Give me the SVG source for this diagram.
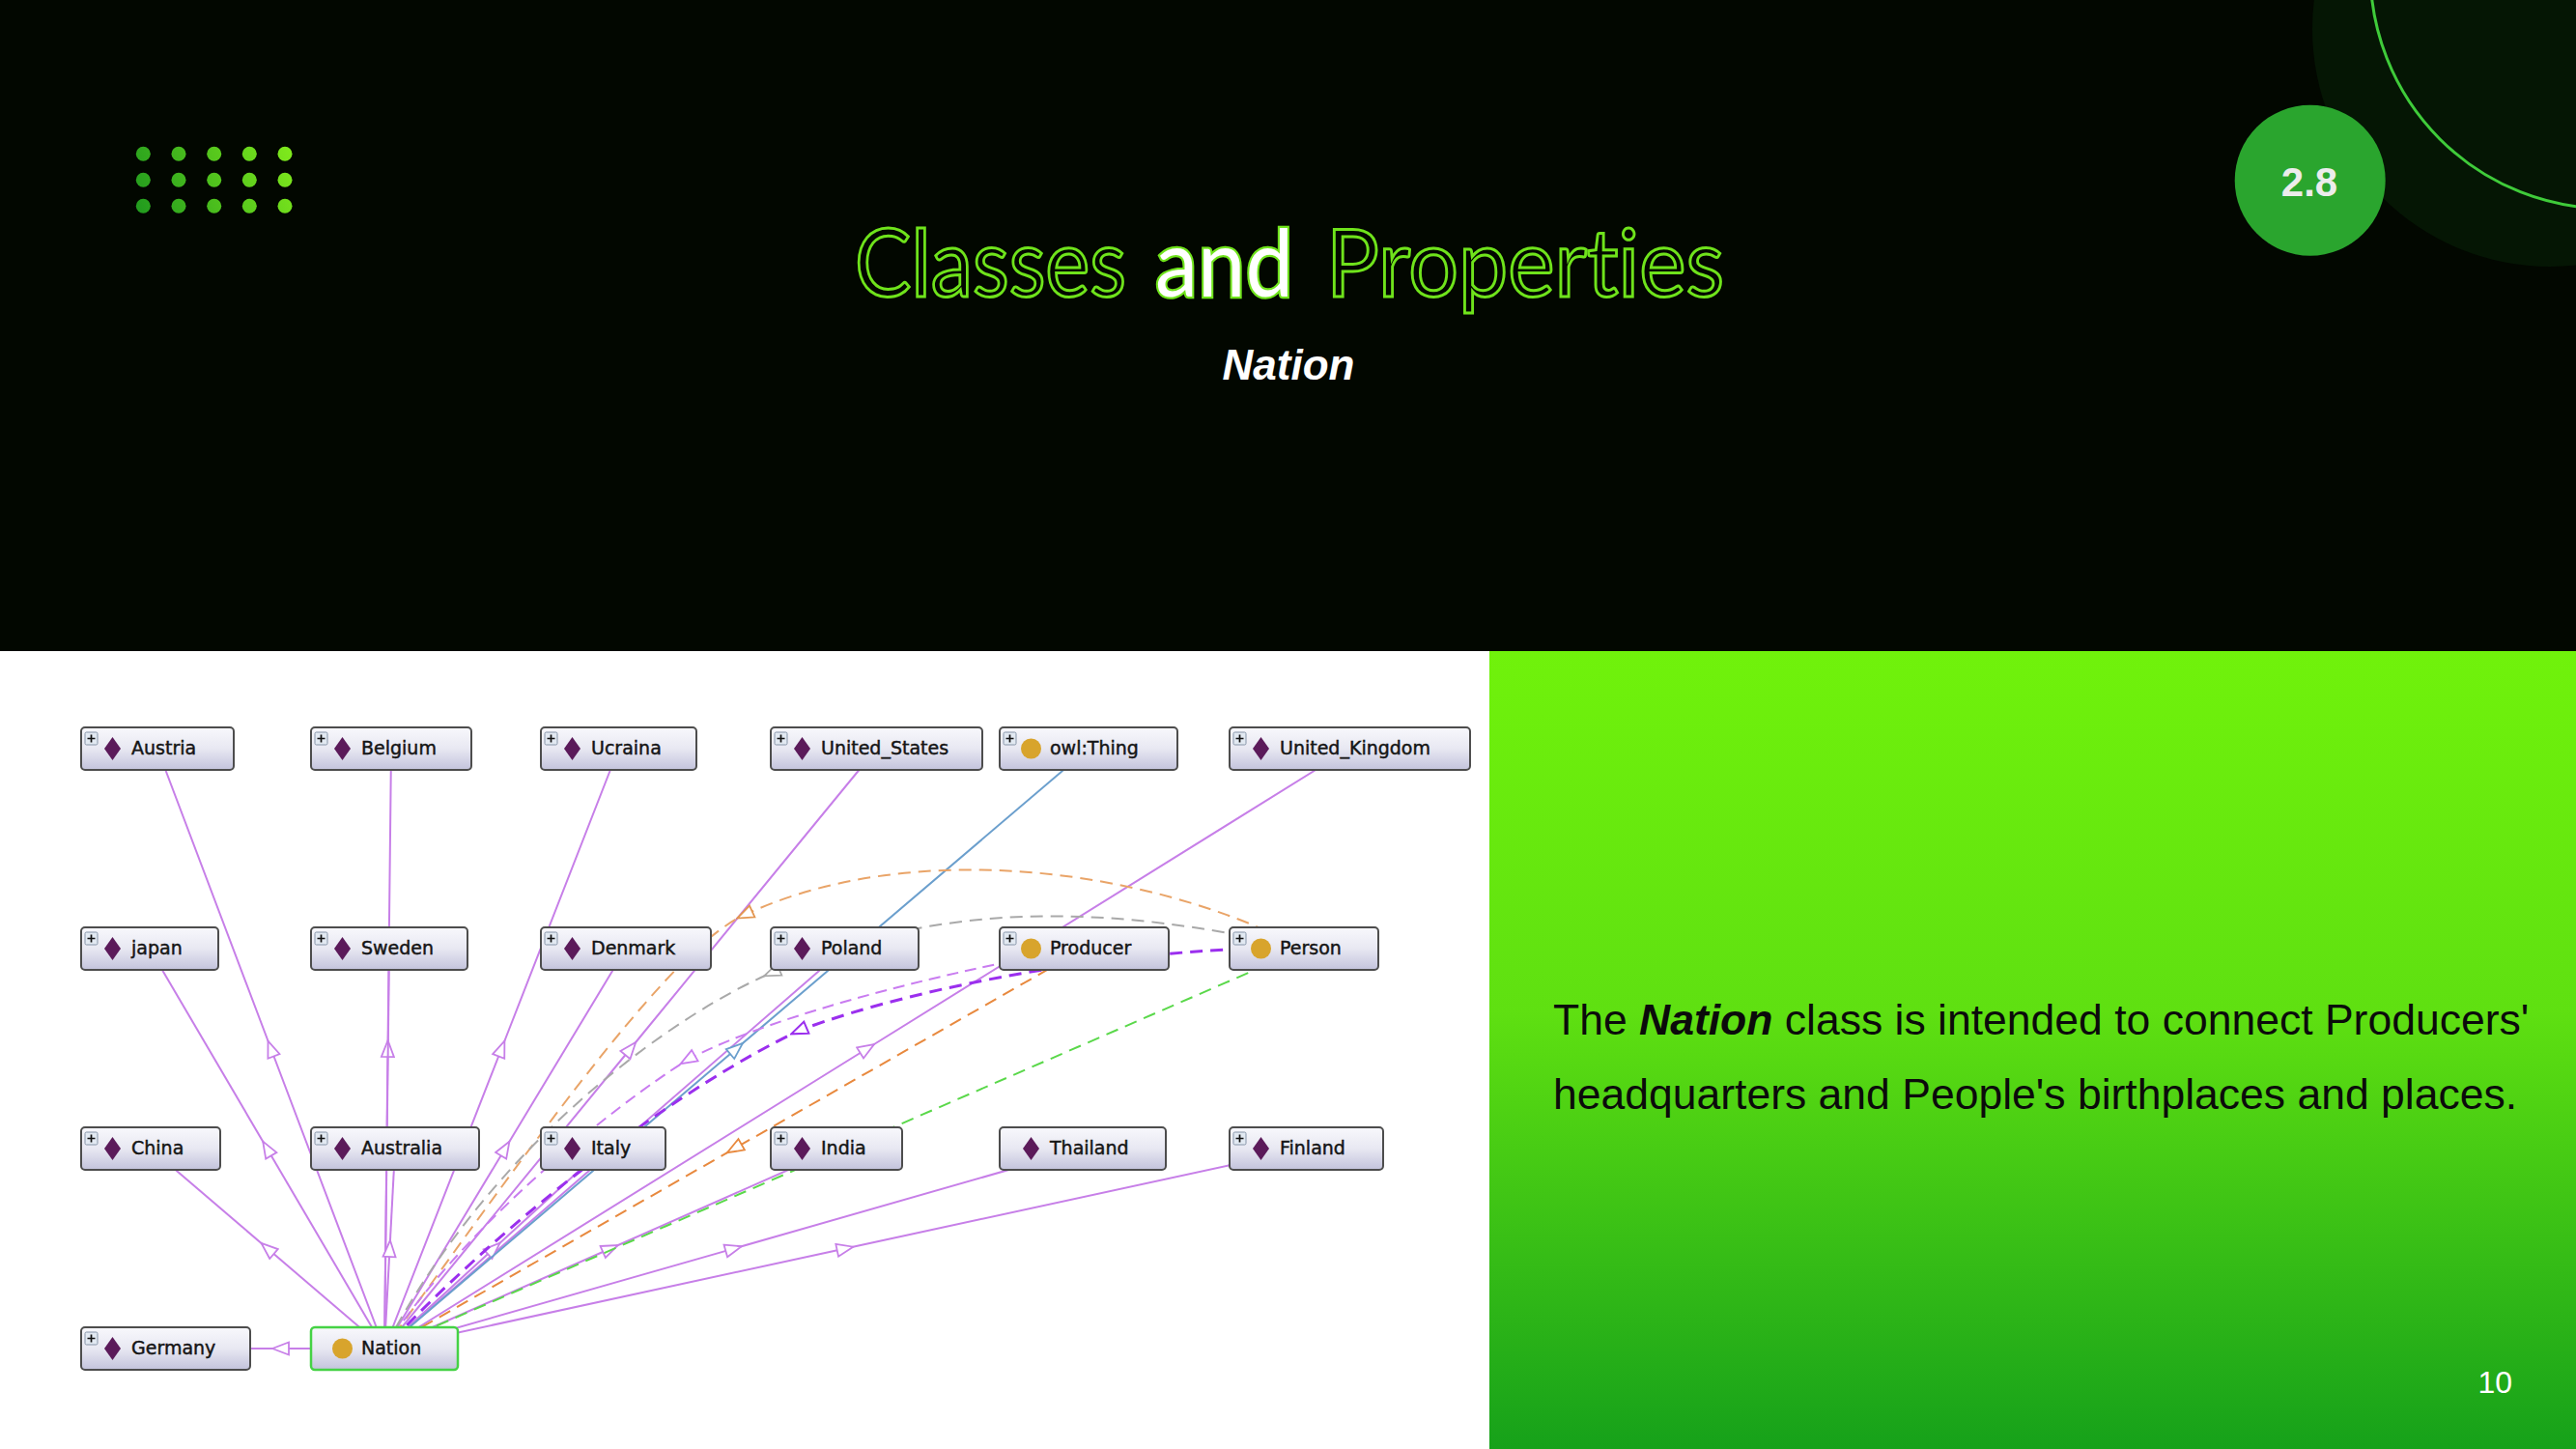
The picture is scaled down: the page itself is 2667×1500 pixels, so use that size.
<svg xmlns="http://www.w3.org/2000/svg" xmlns:xlink="http://www.w3.org/1999/xlink" width="2667" height="1500" viewBox="0 0 2667 1500">
  <style>
    .box { fill: url(#boxFill); stroke: #4d4d4d; stroke-width: 2; }
    .box-focus { fill: url(#boxFill); stroke: #45d245; stroke-width: 2.5; }
    .lbl { font-family: 'DejaVu Sans', 'Liberation Sans', sans-serif; font-size: 19px; fill: #151515; stroke: #151515; stroke-width: 0.45; }
    .edge { fill: none; stroke-width: 2; }
    .inst { stroke: #c77fe8; marker-mid: url(#arrPurple); }
    .sub { stroke: #6b9fcd; marker-mid: url(#arrBlue); }
    .d-orange { stroke: #e9a468; stroke-dasharray: 13 8; marker-mid: url(#arrOrange); }
    .d-orange2 { stroke: #e8893e; stroke-dasharray: 13 8; marker-mid: url(#arrOrange2); }
    .d-gray { stroke: #a9a9a9; stroke-dasharray: 13 8; marker-mid: url(#arrGray); }
    .d-lilac { stroke: #c97cf0; stroke-dasharray: 12 7; marker-mid: url(#arrLilac); }
    .d-violet { stroke: #9b2fee; stroke-width: 3; stroke-dasharray: 13 8; marker-mid: url(#arrViolet); }
    .d-green { stroke: #5ad84a; stroke-dasharray: 13 8; marker-mid: url(#arrGreen); }
    .title { font-family: Lato, 'Open Sans', sans-serif; font-size: 96px; font-variant-ligatures: none; font-feature-settings: "liga" 0; }
    .hollow { fill: #020700; stroke: #6fe31b; stroke-width: 3; }
    .solid { fill: #ffffff; stroke: #6fe31b; stroke-width: 4.5; paint-order: stroke; }
    .body { font-family: 'Liberation Sans', Arial, sans-serif; font-size: 44.5px; fill: #0b0b0b; }
  </style>
  <defs>
    <linearGradient id="boxFill" x1="0" y1="0" x2="0" y2="1">
      <stop offset="0" stop-color="#f8f8fc"/>
      <stop offset="0.5" stop-color="#e8e8f2"/>
      <stop offset="1" stop-color="#c3c3dc"/>
    </linearGradient>
    <linearGradient id="panelFill" x1="0" y1="0" x2="0" y2="1">
      <stop offset="0" stop-color="#70f20b"/>
      <stop offset="0.45" stop-color="#5fe011"/>
      <stop offset="1" stop-color="#16a11a"/>
    </linearGradient>
    <linearGradient id="dotFill" gradientUnits="userSpaceOnUse" x1="140" y1="222" x2="300" y2="150">
      <stop offset="0" stop-color="#1f991e"/>
      <stop offset="1" stop-color="#80ea1c"/>
    </linearGradient>

    <!-- open triangle arrowheads, centred on the path's middle vertex -->
    <marker id="arrPurple" viewBox="0 0 20 16" markerWidth="20" markerHeight="16" refX="10" refY="8" orient="auto" markerUnits="userSpaceOnUse">
      <path d="M1.5,1.5 L18.5,8 L1.5,14.5 Z" fill="#fff" stroke="#c77fe8" stroke-width="1.8"/>
    </marker>
    <marker id="arrBlue" viewBox="0 0 20 16" markerWidth="20" markerHeight="16" refX="10" refY="8" orient="auto" markerUnits="userSpaceOnUse">
      <path d="M1.5,1.5 L18.5,8 L1.5,14.5 Z" fill="#fff" stroke="#6b9fcd" stroke-width="1.8"/>
    </marker>
    <marker id="arrOrange" viewBox="0 0 20 16" markerWidth="20" markerHeight="16" refX="10" refY="8" orient="auto" markerUnits="userSpaceOnUse">
      <path d="M1.5,1.5 L18.5,8 L1.5,14.5 Z" fill="#fff" stroke="#e39650" stroke-width="1.8"/>
    </marker>
    <marker id="arrOrange2" viewBox="0 0 20 16" markerWidth="20" markerHeight="16" refX="10" refY="8" orient="auto" markerUnits="userSpaceOnUse">
      <path d="M1.5,1.5 L18.5,8 L1.5,14.5 Z" fill="#fff" stroke="#e8893e" stroke-width="1.8"/>
    </marker>
    <marker id="arrGray" viewBox="0 0 20 16" markerWidth="20" markerHeight="16" refX="10" refY="8" orient="auto" markerUnits="userSpaceOnUse">
      <path d="M1.5,1.5 L18.5,8 L1.5,14.5 Z" fill="#fff" stroke="#a9a9a9" stroke-width="1.8"/>
    </marker>
    <marker id="arrLilac" viewBox="0 0 20 16" markerWidth="20" markerHeight="16" refX="10" refY="8" orient="auto" markerUnits="userSpaceOnUse">
      <path d="M1.5,1.5 L18.5,8 L1.5,14.5 Z" fill="#fff" stroke="#c97cf0" stroke-width="1.8"/>
    </marker>
    <marker id="arrViolet" viewBox="0 0 20 16" markerWidth="20" markerHeight="16" refX="10" refY="8" orient="auto" markerUnits="userSpaceOnUse">
      <path d="M1.5,1.5 L18.5,8 L1.5,14.5 Z" fill="#fff" stroke="#9b2fee" stroke-width="2"/>
    </marker>
    <marker id="arrGreen" viewBox="0 0 20 16" markerWidth="20" markerHeight="16" refX="10" refY="8" orient="auto" markerUnits="userSpaceOnUse">
      <path d="M1.5,1.5 L18.5,8 L1.5,14.5 Z" fill="#fff" stroke="#5ad84a" stroke-width="1.8"/>
    </marker>

    <!-- node decorations -->
    <g id="plus">
      <rect x="4" y="5" width="13" height="13" rx="1.5" fill="#e2e9f2" stroke="#8694a8" stroke-width="1"/>
      <path d="M10.5,7.5 V15.5 M6.5,11.5 H14.5" stroke="#111" stroke-width="1.7"/>
    </g>
    <path id="diamond" d="M32.5,10 L41,22 L32.5,34 L24,22 Z" fill="#5b1a5a"/>
    <circle id="classDot" cx="32.5" cy="22" r="10.5" fill="#d8a42c"/>
  </defs>

  <!-- slide background -->
  <rect x="0" y="0" width="2667" height="1500" fill="#020700"/>
  <circle cx="2640" cy="30" r="246" fill="#051604"/>
  <circle cx="2700" cy="-30" r="246" fill="none" stroke="#3fcb3a" stroke-width="3"/>
  <circle cx="2391.7" cy="186.7" r="78" fill="#2aa52e"/>
  <text x="2391" y="203" text-anchor="middle" font-family="'Liberation Sans', Arial, sans-serif" font-weight="bold" font-size="42" fill="#ececec">2.8</text>

  <!-- dot grid -->
  <g fill="url(#dotFill)">
    <circle cx="148.3" cy="159.3" r="7.5"/><circle cx="185" cy="159.3" r="7.5"/><circle cx="221.7" cy="159.3" r="7.5"/><circle cx="258.3" cy="159.3" r="7.5"/><circle cx="295" cy="159.3" r="7.5"/>
    <circle cx="148.3" cy="186.3" r="7.5"/><circle cx="185" cy="186.3" r="7.5"/><circle cx="221.7" cy="186.3" r="7.5"/><circle cx="258.3" cy="186.3" r="7.5"/><circle cx="295" cy="186.3" r="7.5"/>
    <circle cx="148.3" cy="213.3" r="7.5"/><circle cx="185" cy="213.3" r="7.5"/><circle cx="221.7" cy="213.3" r="7.5"/><circle cx="258.3" cy="213.3" r="7.5"/><circle cx="295" cy="213.3" r="7.5"/>
  </g>

  <!-- heading -->
  <text class="title hollow" x="885" y="307" textLength="281" lengthAdjust="spacingAndGlyphs">Classes</text>
  <text class="title solid" x="1196" y="307" textLength="143" lengthAdjust="spacingAndGlyphs">and</text>
  <text class="title hollow" x="1373" y="307" textLength="412" lengthAdjust="spacingAndGlyphs">Properties</text>
  <text x="1334" y="393" text-anchor="middle" font-family="'Liberation Sans', Arial, sans-serif" font-weight="bold" font-style="italic" font-size="44" fill="#ffffff">Nation</text>

  <!-- panels -->
  <rect x="0" y="674" width="1542" height="826" fill="#ffffff"/>
  <rect x="1542" y="674" width="1125" height="826" fill="url(#panelFill)"/>
  <text class="body" x="1608" y="1071">The <tspan font-weight="bold" font-style="italic">Nation</tspan> class is intended to connect Producers'</text>
  <text class="body" x="1608" y="1148">headquarters and People's birthplaces and places.</text>
  <text x="2601" y="1442" text-anchor="end" font-family="'Liberation Sans', Arial, sans-serif" font-size="32" fill="#ffffff">10</text>

  <!-- connectors -->
  <g id="connectors">
    <path class="edge inst" d="M398,1396 L280.5,1085.5 L163,775"/>
    <path class="edge inst" d="M398,1396 L401.5,1085.5 L405,775"/>
    <path class="edge inst" d="M398,1396 L519.3,1085.5 L640.5,775"/>
    <path class="edge inst" d="M398,1396 L652.8,1085.5 L907.5,775"/>
    <path class="edge inst" d="M398,1396 L897.8,1085.5 L1397.5,775"/>
    <path class="edge inst" d="M398,1396 L276.5,1189 L155,982"/>
    <path class="edge inst" d="M398,1396 L400.5,1189 L403,982"/>
    <path class="edge inst" d="M398,1396 L523,1189 L648,982"/>
    <path class="edge inst" d="M398,1396 L636.3,1189 L874.5,982"/>
    <path class="edge inst" d="M398,1396 L277,1292.5 L156,1189"/>
    <path class="edge inst" d="M398,1396 L403.5,1292.5 L409,1189"/>
    <path class="edge inst" d="M398,1396 L511.3,1292.5 L624.5,1189"/>
    <path class="edge inst" d="M398,1396 L632,1292.5 L866,1189"/>
    <path class="edge inst" d="M398,1396 L759.5,1292.6 L1121,1189"/>
    <path class="edge inst" d="M398,1396 L875,1292.5 L1352.5,1189"/>
    <path class="edge inst" d="M398,1396 L290.5,1396 L171.5,1396"/>
    <path class="edge sub" d="M398,1396 L762.5,1085.5 L1127,775"/>
    <path class="edge d-green" d="M1350,982 L874,1189 L398,1396"/>
    <path class="edge d-orange2" d="M1122.5,982 L760.3,1189 L398,1396"/>
    <path class="edge d-orange" d="M1350,982 C1185,896 940,868 771,947 C698,980 573,1153 398,1396"/>
    <path class="edge d-gray" d="M1350,982 C1150,936 978,931 799,1007 C707,1046 513,1176 398,1396"/>
    <path class="edge d-lilac" d="M1122.5,982 C1000,1000 800,1050 712,1097 C635.5,1144.7 479,1270 398,1396"/>
    <path class="edge d-violet" d="M1350,982 C1180,978 950,1020 827,1067 C715,1120 540,1245 398,1396"/>
  </g>

  <!-- nodes -->
  <g id="n-austria" transform="translate(84,753)"><rect class="box" width="158" height="44" rx="4"/><use href="#plus"/><use href="#diamond"/><text class="lbl" x="52" y="28">Austria</text></g>
  <g id="n-belgium" transform="translate(322,753)"><rect class="box" width="166" height="44" rx="4"/><use href="#plus"/><use href="#diamond"/><text class="lbl" x="52" y="28">Belgium</text></g>
  <g id="n-ucraina" transform="translate(560,753)"><rect class="box" width="161" height="44" rx="4"/><use href="#plus"/><use href="#diamond"/><text class="lbl" x="52" y="28">Ucraina</text></g>
  <g id="n-united-states" transform="translate(798,753)"><rect class="box" width="219" height="44" rx="4"/><use href="#plus"/><use href="#diamond"/><text class="lbl" x="52" y="28">United_States</text></g>
  <g id="n-owl-thing" transform="translate(1035,753)"><rect class="box" width="184" height="44" rx="4"/><use href="#plus"/><use href="#classDot"/><text class="lbl" x="52" y="28">owl:Thing</text></g>
  <g id="n-united-kingdom" transform="translate(1273,753)"><rect class="box" width="249" height="44" rx="4"/><use href="#plus"/><use href="#diamond"/><text class="lbl" x="52" y="28">United_Kingdom</text></g>

  <g id="n-japan" transform="translate(84,960)"><rect class="box" width="142" height="44" rx="4"/><use href="#plus"/><use href="#diamond"/><text class="lbl" x="52" y="28">japan</text></g>
  <g id="n-sweden" transform="translate(322,960)"><rect class="box" width="162" height="44" rx="4"/><use href="#plus"/><use href="#diamond"/><text class="lbl" x="52" y="28">Sweden</text></g>
  <g id="n-denmark" transform="translate(560,960)"><rect class="box" width="176" height="44" rx="4"/><use href="#plus"/><use href="#diamond"/><text class="lbl" x="52" y="28">Denmark</text></g>
  <g id="n-poland" transform="translate(798,960)"><rect class="box" width="153" height="44" rx="4"/><use href="#plus"/><use href="#diamond"/><text class="lbl" x="52" y="28">Poland</text></g>
  <g id="n-producer" transform="translate(1035,960)"><rect class="box" width="175" height="44" rx="4"/><use href="#plus"/><use href="#classDot"/><text class="lbl" x="52" y="28">Producer</text></g>
  <g id="n-person" transform="translate(1273,960)"><rect class="box" width="154" height="44" rx="4"/><use href="#plus"/><use href="#classDot"/><text class="lbl" x="52" y="28">Person</text></g>

  <g id="n-china" transform="translate(84,1167)"><rect class="box" width="144" height="44" rx="4"/><use href="#plus"/><use href="#diamond"/><text class="lbl" x="52" y="28">China</text></g>
  <g id="n-australia" transform="translate(322,1167)"><rect class="box" width="174" height="44" rx="4"/><use href="#plus"/><use href="#diamond"/><text class="lbl" x="52" y="28">Australia</text></g>
  <g id="n-italy" transform="translate(560,1167)"><rect class="box" width="129" height="44" rx="4"/><use href="#plus"/><use href="#diamond"/><text class="lbl" x="52" y="28">Italy</text></g>
  <g id="n-india" transform="translate(798,1167)"><rect class="box" width="136" height="44" rx="4"/><use href="#plus"/><use href="#diamond"/><text class="lbl" x="52" y="28">India</text></g>
  <g id="n-thailand" transform="translate(1035,1167)"><rect class="box" width="172" height="44" rx="4"/><use href="#diamond"/><text class="lbl" x="52" y="28">Thailand</text></g>
  <g id="n-finland" transform="translate(1273,1167)"><rect class="box" width="159" height="44" rx="4"/><use href="#plus"/><use href="#diamond"/><text class="lbl" x="52" y="28">Finland</text></g>

  <g id="n-germany" transform="translate(84,1374)"><rect class="box" width="175" height="44" rx="4"/><use href="#plus"/><use href="#diamond"/><text class="lbl" x="52" y="28">Germany</text></g>
  <g id="n-nation" transform="translate(322,1374)"><rect class="box-focus" width="152" height="44" rx="4"/><use href="#classDot"/><text class="lbl" x="52" y="28">Nation</text></g>
</svg>
